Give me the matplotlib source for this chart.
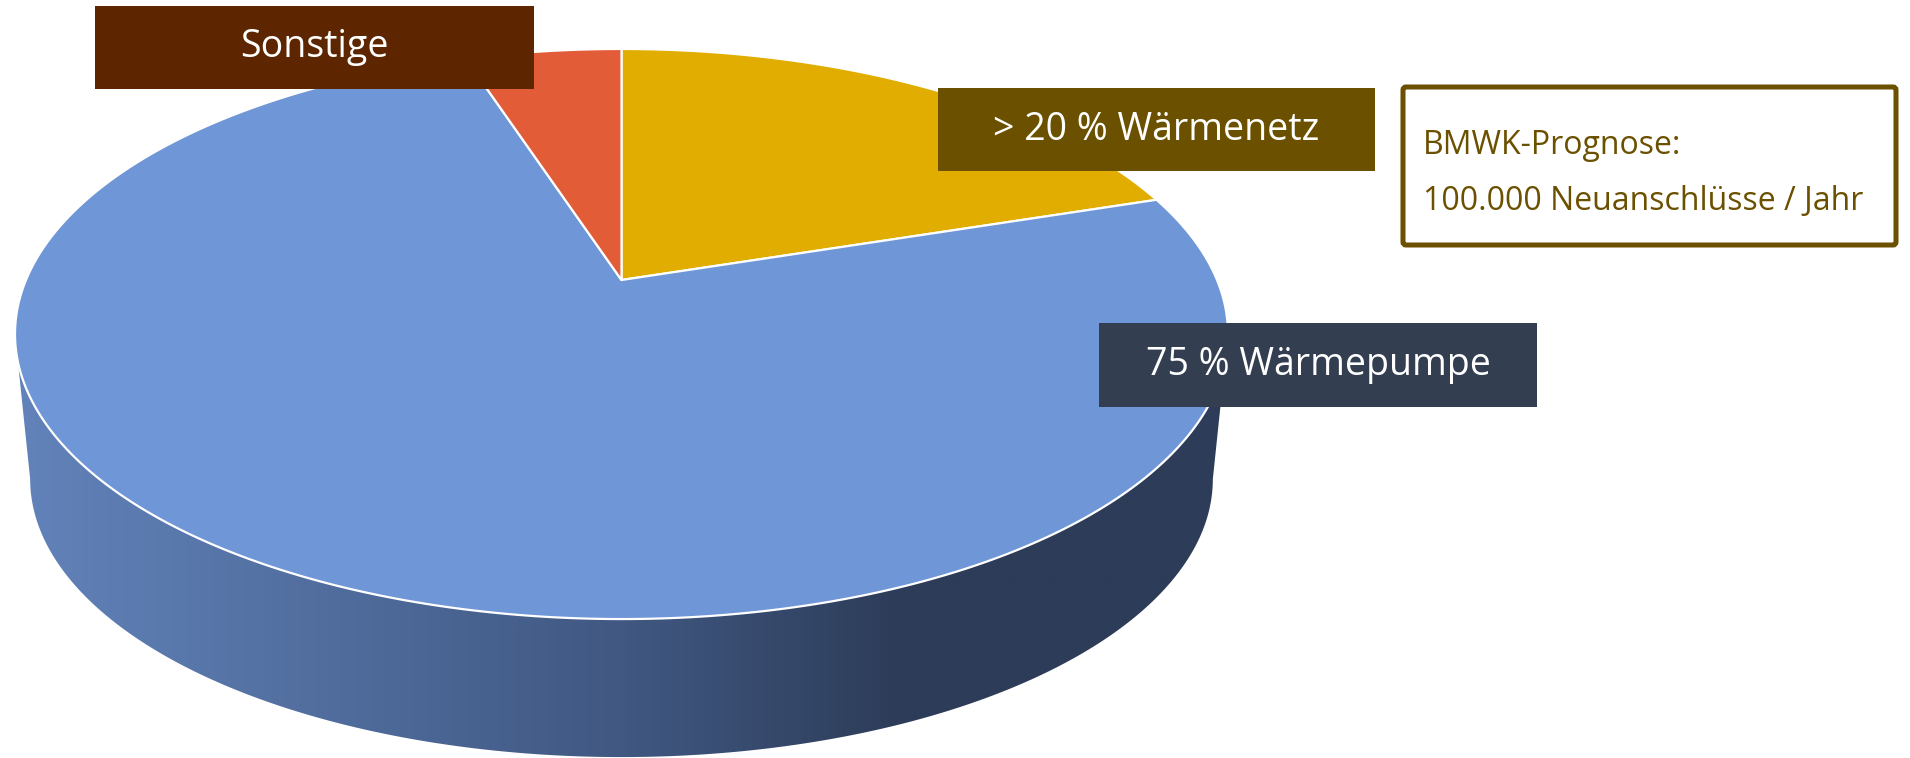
import numpy as np
import matplotlib
matplotlib.use("Agg")
import matplotlib.pyplot as plt
from matplotlib.patches import Polygon, Rectangle, FancyBboxPatch
from matplotlib.colors import LinearSegmentedColormap

# ---- data ----
categories = ["> 20 % Wärmenetz", "75 % Wärmepumpe", "Sonstige"]   # clockwise from 12 o'clock
values = [20, 75, 5]
slice_colors = ["#e1ad00", "#6f96d6", "#e25c38"]
box_colors = ["#6b5000", "#333e50", "#5d2600"]
note_lines = ["BMWK-Prognose:", "100.000 Neuanschlüsse / Jahr"]

FONT = ["Open Sans", "DejaVu Sans"]

W, H = 1910, 758
fig = plt.figure(figsize=(W / 100, H / 100), dpi=100)
ax = fig.add_axes([0, 0, 1, 1])
ax.set_xlim(0, W)
ax.set_ylim(H, 0)
ax.axis("off")

# perspective projection of the pie disc (pixel space)
cx, cy = 621.5, 280.0
k = 0.1895
A, B = 595.5, 274.8
s_bot, dv_bot = 0.975, 146.5


def proj(phi_deg, r=1.0, bottom=False):
    phi = np.radians(phi_deg)
    x = r * np.sin(phi)
    y = r * np.cos(phi)
    w = 1 + k * y
    if bottom:
        return cx + s_bot * A * x / w, cy + dv_bot - s_bot * B * y / w
    return cx + A * x / w, cy - B * y / w


# side wall (front visible part)
phi_r = np.degrees(np.arccos(-k))
phi_l = 360 - phi_r
arc = np.linspace(phi_r, phi_l, 300)
tu, tv = proj(arc)
bu, bv = proj(arc[::-1], bottom=True)
side_xy = np.column_stack([np.concatenate([tu, bu]), np.concatenate([tv, bv])])
side_patch = Polygon(side_xy, closed=True, facecolor="none", edgecolor="none")
ax.add_patch(side_patch)
cmap = LinearSegmentedColormap.from_list(
    "side", [(0.0, "#6283ba"), (0.5, "#405882"), (0.73, "#2d3c58"), (1.0, "#2d3c58")])
grad = np.linspace(0, 1, 512).reshape(1, -1)
im = ax.imshow(grad, cmap=cmap, aspect="auto", extent=[15, 1230, H, 300],
               zorder=1, interpolation="bilinear")
im.set_clip_path(side_patch)

# top surface slices
total = sum(values)
start = 0.0
for val, col in zip(values, slice_colors):
    span = 360.0 * val / total
    a = np.linspace(start, start + span, max(int(span * 3), 10))
    u, v = proj(a)
    xy = np.column_stack([np.concatenate([[cx], u]), np.concatenate([[cy], v])])
    ax.add_patch(Polygon(xy, closed=True, facecolor=col, edgecolor="white",
                         linewidth=1.6, joinstyle="round", zorder=2))
    start += span

# label boxes
label_boxes = {
    "Sonstige": (95, 6, 439, 83),
    "> 20 % Wärmenetz": (938, 88, 437, 83),
    "75 % Wärmepumpe": (1099, 323, 438, 84),
}
for cat, bc in zip(categories, box_colors):
    x0, y0, bw, bh = label_boxes[cat]
    ax.add_patch(Rectangle((x0, y0), bw, bh, facecolor=bc, edgecolor="none", zorder=5))
    ax.text(x0 + bw / 2, y0 + bh / 2, cat, color="white", fontsize=27,
            family=FONT, ha="center", va="center", zorder=6)

# note box
ax.add_patch(FancyBboxPatch((1403, 87), 493, 158, boxstyle="round,pad=0,rounding_size=3",
                            facecolor="white", edgecolor="#6b5000", linewidth=3.6, zorder=5))
for i, line in enumerate(note_lines):
    ax.text(1423, 146 + 56 * i, line, color="#6b5000", fontsize=23, family=FONT,
            ha="left", va="center", zorder=6)

fig.savefig("out.png", dpi=100)
